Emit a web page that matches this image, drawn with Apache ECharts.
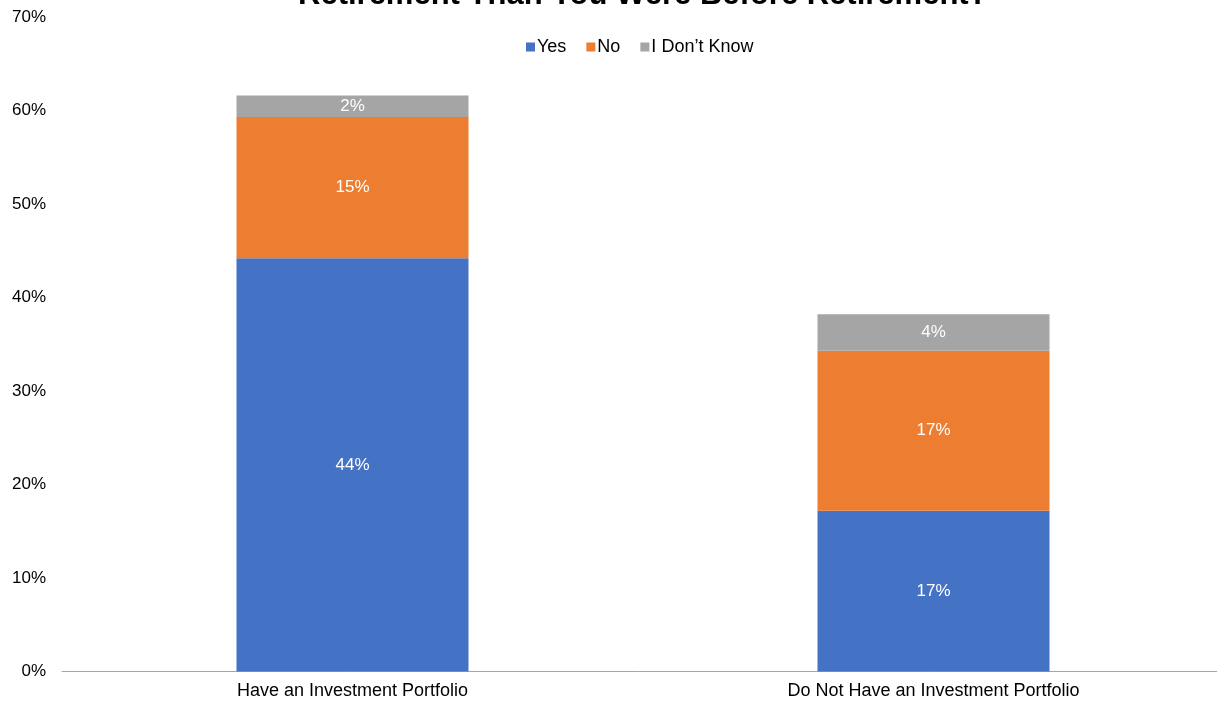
<!DOCTYPE html>
<html>
<head>
<meta charset="utf-8">
<style>
  html, body { margin: 0; padding: 0; background: #ffffff; }
  #chart { width: 1217px; height: 704px; }
</style>
<script src="https://cdn.jsdelivr.net/npm/echarts@6/dist/echarts.min.js"></script>
</head>
<body>
<div id="chart"></div>
<script>
// Share of respondents, in percent
const categories = ['Have an Investment Portfolio', 'Do Not Have an Investment Portfolio'];
const yesValues = [44.2, 17.2];
const noValues = [15.1, 17.1];
const dontKnowValues = [2.3, 3.9];
const seriesNames = ['Yes', 'No', 'I Don\u2019t Know'];
const seriesColors = ['#4472c4', '#ed7d31', '#a5a5a5'];

const FONT = 'Liberation Sans, Arial, sans-serif';

function makeSeries(name, data, color) {
  return {
    name: name,
    type: 'bar',
    stack: 'total',
    data: data,
    barWidth: 232,
    itemStyle: { color: color },
    label: {
      show: true,
      position: 'inside',
      color: '#ffffff',
      fontFamily: FONT,
      fontSize: 17,
      formatter: p => Math.round(p.value) + '%'
    },
    emphasis: { disabled: true }
  };
}

const chart = echarts.init(document.getElementById('chart'), null, { renderer: 'canvas' });
chart.setOption({
  animation: false,
  backgroundColor: '#ffffff',
  title: {
    text: 'Retirement Than You Were Before Retirement?',
    left: 293,
    top: -25,
    textStyle: { fontFamily: FONT, fontSize: 31, fontWeight: 'bold', color: '#000000' }
  },
  legend: {
    data: seriesNames,
    top: 33,
    left: 521,
    itemWidth: 9,
    itemHeight: 9,
    itemGap: 20,
    icon: 'rect',
    textStyle: { fontFamily: FONT, fontSize: 18, color: '#000000', padding: [0, 0, 0, -3] }
  },
  grid: { left: 62, width: 1162, top: 17, bottom: 32.5, containLabel: false, outerBoundsMode: 'none' },
  xAxis: {
    type: 'category',
    data: categories,
    axisLine: { lineStyle: { color: '#a6a6a6', width: 1 } },
    axisTick: { show: false },
    axisLabel: { fontFamily: FONT, fontSize: 18, color: '#000000', margin: 11 }
  },
  yAxis: {
    type: 'value',
    min: 0,
    max: 70,
    interval: 10,
    axisLine: { show: false },
    axisTick: { show: false },
    splitLine: { show: false },
    axisLabel: { fontFamily: FONT, fontSize: 17, color: '#000000', margin: 16, formatter: v => v + '%' }
  },
  series: [
    makeSeries(seriesNames[0], yesValues, seriesColors[0]),
    makeSeries(seriesNames[1], noValues, seriesColors[1]),
    makeSeries(seriesNames[2], dontKnowValues, seriesColors[2])
  ]
});
</script>
</body>
</html>
